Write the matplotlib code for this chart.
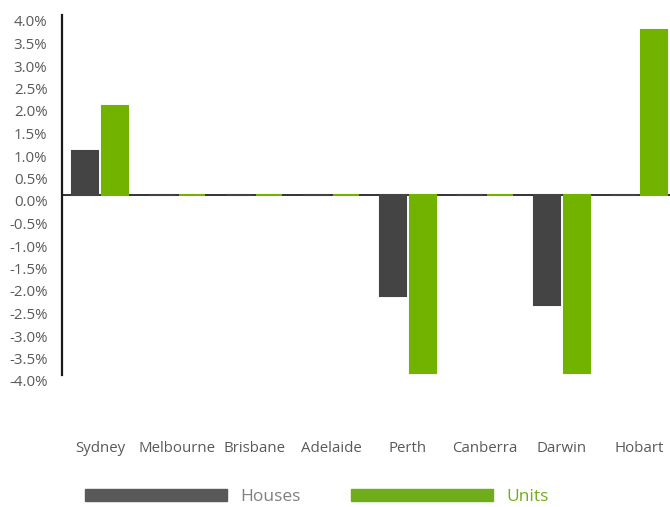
import numpy as np
import matplotlib
matplotlib.use('Agg')
import matplotlib.pyplot as plt
import matplotlib.transforms as mtransforms
from matplotlib.patches import Patch

plt.rcParams['font.family'] = ['Open Sans', 'DejaVu Sans']
plt.rcParams['axes.unicode_minus'] = False

# data (annual change, %)
cities = ['Sydney', 'Melbourne', 'Brisbane', 'Adelaide', 'Perth', 'Canberra', 'Darwin', 'Hobart']
houses = [0.97, 0.0, 0.0, 0.0, -2.25, 0.0, -2.45, 0.0]
units = [1.97, 0.0, 0.0, 0.0, -3.95, 0.0, -3.95, 3.66]
yticks = [-4.0, -3.5, -3.0, -2.5, -2.0, -1.5, -1.0, -0.5, 0.0, 0.5, 1.0, 1.5, 2.0, 2.5, 3.0, 3.5, 4.0]

house_col = '#444444'
unit_col = '#72b300'
text_col = '#595959'

fig = plt.figure(figsize=(6.7, 5.07), dpi=100)
ax = fig.add_axes([62 / 670, 132 / 507, 608 / 670, 360 / 507])

x = np.arange(len(cities))
w = 0.338
ax.bar(x - 0.195, houses, w, color=house_col, edgecolor=house_col, linewidth=1.5, zorder=3)
ax.bar(x + 0.195, units, w, color=unit_col, edgecolor=unit_col, linewidth=1.5, zorder=3)

ax.axhline(0, color='#222222', lw=1.3, zorder=2)

ax.set_xlim(-0.494, 7.402)
ax.set_ylim(-4, 4)
ax.set_yticks(yticks)
ax.set_yticklabels(['%.1f%%' % v for v in yticks])
ax.set_xticks(x)
ax.set_xticklabels(cities)

for s in ['top', 'right', 'bottom']:
    ax.spines[s].set_visible(False)
ax.spines['left'].set_linewidth(1.6)
ax.spines['left'].set_color('#1a1a1a')

ax.tick_params(axis='y', length=0, pad=10.5, labelsize=10.8, labelcolor=text_col)
ax.tick_params(axis='x', length=0, pad=47.5, labelsize=10.8, labelcolor=text_col)

# labels sit a bit lower than their ticks in the original
offset = mtransforms.ScaledTranslation(0, -6 / 100, fig.dpi_scale_trans)
for lab in ax.get_yticklabels():
    lab.set_transform(lab.get_transform() + offset)

handles = [Patch(color='#595959', label='Houses'), Patch(color='#70ad1a', label='Units')]
leg = fig.legend(handles=handles, loc='center left', bbox_to_anchor=(85 / 670, 10 / 507),
                 ncol=2, frameon=False, fontsize=12.5, handlelength=8.2, handleheight=0.62,
                 handletextpad=0.75, columnspacing=2.9, borderpad=0, borderaxespad=0)
leg.get_texts()[0].set_color('#7f7f7f')
leg.get_texts()[1].set_color('#70ad1a')

plt.savefig('out.png', dpi=100)
